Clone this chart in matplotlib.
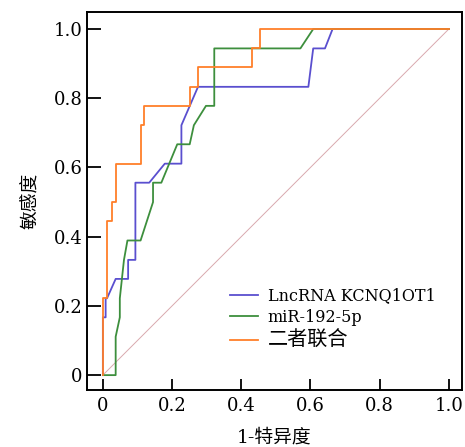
import numpy as np
import matplotlib
matplotlib.use("Agg")
import matplotlib.pyplot as plt

# ROC curve points (1-specificity, sensitivity)
lnc_fpr = [0, 0, 0.008, 0.008, 0.012, 0.037, 0.073, 0.073, 0.094, 0.094, 0.134, 0.179,
           0.227, 0.227, 0.275, 0.594, 0.608, 0.642, 0.664, 1.0]
lnc_tpr = [0, 0.167, 0.167, 0.222, 0.222, 0.278, 0.278, 0.333, 0.333, 0.556, 0.556, 0.611,
           0.611, 0.722, 0.833, 0.833, 0.944, 0.944, 1.0, 1.0]

mir_fpr = [0, 0.037, 0.037, 0.049, 0.049, 0.061, 0.071, 0.109, 0.145, 0.145, 0.169, 0.215,
           0.251, 0.263, 0.298, 0.322, 0.322, 0.571, 0.608, 1.0]
mir_tpr = [0, 0, 0.111, 0.167, 0.222, 0.333, 0.389, 0.389, 0.5, 0.556, 0.556, 0.667,
           0.667, 0.722, 0.778, 0.778, 0.944, 0.944, 1.0, 1.0]

comb_fpr = [0, 0, 0.012, 0.012, 0.025, 0.025, 0.037, 0.037, 0.109, 0.109, 0.119, 0.119,
            0.251, 0.251, 0.274, 0.274, 0.430, 0.430, 0.454, 0.454, 1.0]
comb_tpr = [0, 0.222, 0.222, 0.444, 0.444, 0.5, 0.5, 0.611, 0.611, 0.722, 0.722, 0.778,
            0.778, 0.833, 0.833, 0.889, 0.889, 0.944, 0.944, 1.0, 1.0]

labels = ["LncRNA KCNQ1OT1", "miR-192-5p", "二者联合"]
colors = ["#5a4fcf", "#3d8f3d", "#ff7f2a"]
ticks = [0, 0.2, 0.4, 0.6, 0.8, 1.0]
tick_labels = ["0", "0.2", "0.4", "0.6", "0.8", "1.0"]

fam = ["DejaVu Serif", "Noto Sans CJK SC"]

fig = plt.figure(figsize=(4.65, 4.47), dpi=100)
ax = fig.add_axes([0.187, 0.1275, 0.8065, 0.8455])

ax.plot([0, 1], [0, 1], color="#d9a9ae", lw=0.7, zorder=1)
for fpr, tpr, c, lab in zip([lnc_fpr, mir_fpr, comb_fpr], [lnc_tpr, mir_tpr, comb_tpr],
                            colors, labels):
    ax.plot(fpr, tpr, color=c, lw=1.3, label=lab, zorder=3)

ax.set_xlim(-0.046, 1.038)
ax.set_ylim(-0.043, 1.049)
ax.set_xticks(ticks)
ax.set_yticks(ticks)
ax.set_xticklabels(tick_labels, family=fam, fontsize=13)
ax.set_yticklabels(tick_labels, family=fam, fontsize=13)
ax.tick_params(axis="y", direction="in", length=10, width=1.3, pad=3)
ax.tick_params(axis="x", direction="in", length=8, width=1.3, pad=5)
for s in ax.spines.values():
    s.set_linewidth(1.4)

ax.set_xlabel("1-特异度", family=fam, fontsize=13.5, labelpad=10)
ax.set_ylabel("敏感度", family=fam, fontsize=13.5, labelpad=10)

leg = ax.legend(loc="upper left", bbox_to_anchor=(0.381, 0.272), frameon=False,
                prop={"family": fam, "size": 11.5}, handlelength=1.75, handletextpad=0.63,
                labelspacing=0.3, borderaxespad=0, borderpad=0)
leg.get_texts()[2].set_fontsize(14.5)

fig.savefig("out.png", dpi=100)
